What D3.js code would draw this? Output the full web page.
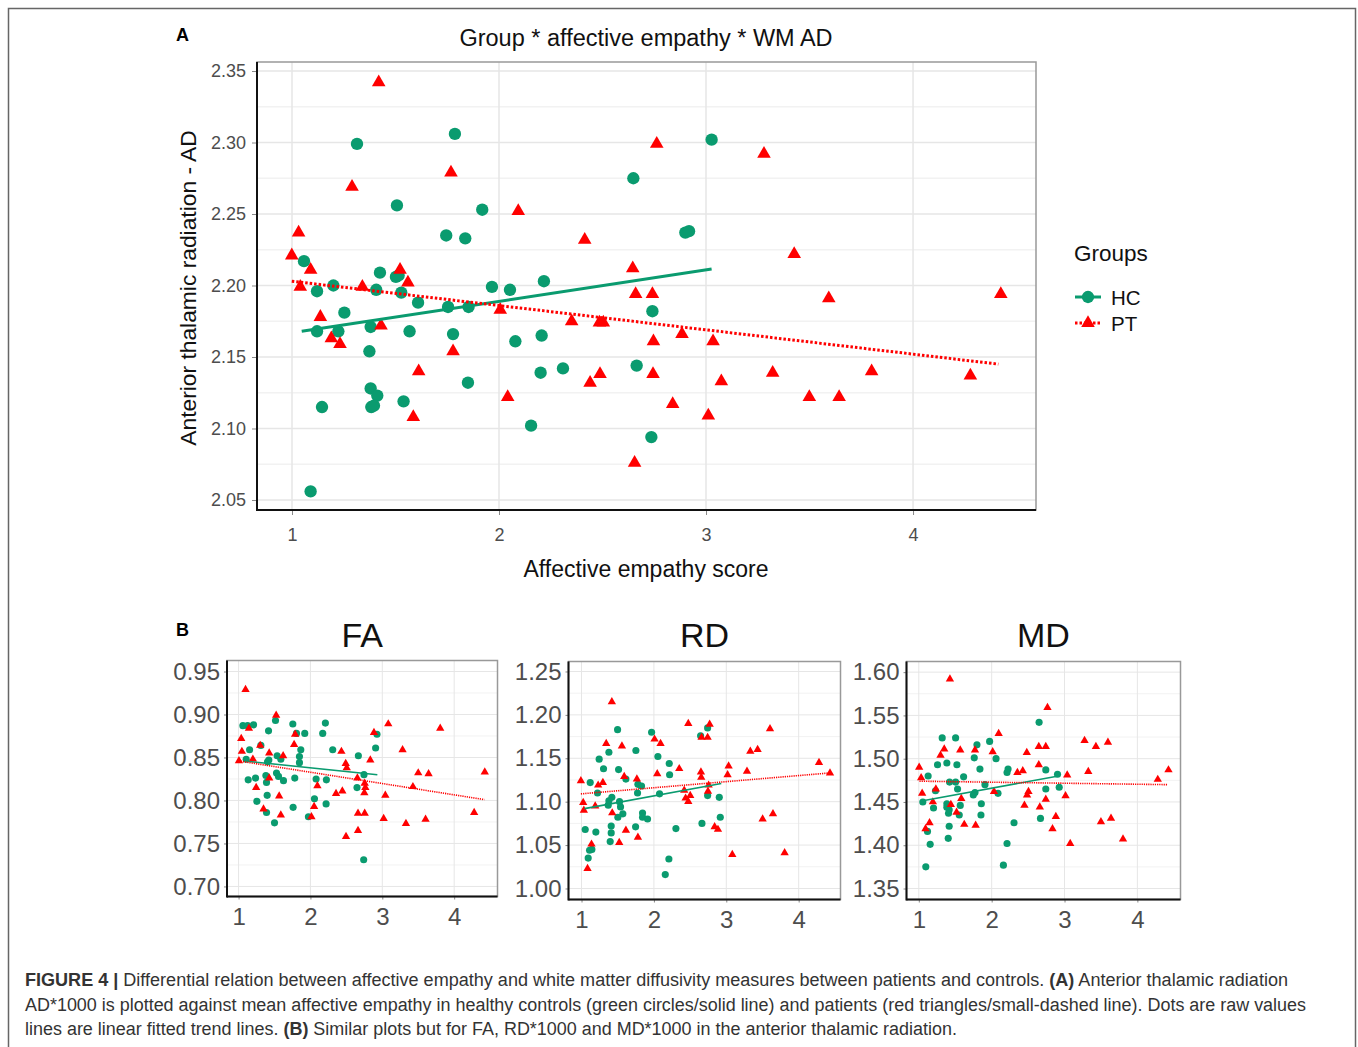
<!DOCTYPE html>
<html>
<head>
<meta charset="utf-8">
<script src="https://cdn.jsdelivr.net/npm/d3@7"></script>
<style>
    body { margin: 0; background: #fff; }
    text { font-family: "Liberation Sans", Arial, sans-serif; }
    .caption { font-family: "Liberation Sans Narrow", "Liberation Sans", Arial, sans-serif; fill: #333; }
</style>
</head>
<body>
<script>
// ---- data: [affective empathy score, value] ----

// panel A - AD
let hcAD = [[1.314,2.299],[1.787,2.306],[1.507,2.256],[1.919,2.253],[1.745,2.235],[1.837,2.233],
    [2.649,2.275],[3.027,2.302],[2.900,2.237],[2.918,2.238],[1.058,2.217],[1.121,2.196],[1.200,2.200],
    [1.425,2.209],[1.502,2.206],[1.515,2.207],[1.407,2.197],[1.528,2.195],[1.253,2.181],[1.609,2.188],
    [1.754,2.185],[1.853,2.185],[1.966,2.199],[2.053,2.197],[2.217,2.203],[1.121,2.168],[1.224,2.168],
    [1.380,2.171],[1.568,2.168],[1.778,2.166],[1.374,2.154],[2.079,2.161],[2.206,2.165],[2.201,2.139],
    [2.309,2.142],[1.850,2.132],[1.380,2.128],[1.412,2.123],[1.383,2.115],[1.396,2.116],[1.539,2.119],
    [1.145,2.115],[2.155,2.102],[1.090,2.056],[2.741,2.182],[2.665,2.144],[2.736,2.094]];
let ptAD = [[1.419,2.342],[1.290,2.269],[1.768,2.279],[2.093,2.252],[2.414,2.232],[1.032,2.237],
    [0.999,2.221],[1.090,2.211],[2.762,2.299],[3.280,2.292],[3.426,2.222],[2.646,2.212],[1.522,2.211],
    [1.560,2.202],[1.040,2.199],[1.340,2.199],[1.137,2.178],[1.430,2.172],[1.190,2.163],[1.232,2.159],
    [1.778,2.154],[1.612,2.140],[1.586,2.108],[2.006,2.183],[2.042,2.122],[2.351,2.175],[2.485,2.174],
    [2.504,2.174],[2.440,2.132],[2.488,2.138],[2.660,2.194],[2.741,2.194],[3.593,2.191],[4.424,2.194],
    [2.884,2.166],[2.746,2.161],[3.034,2.161],[2.744,2.138],[3.074,2.133],[3.322,2.139],[3.800,2.140],
    [4.277,2.137],[3.499,2.122],[3.643,2.122],[2.839,2.117],[3.011,2.109],[2.655,2.076]];
let hcADfit = [[1.047,2.168],[3.027,2.2115]];
let ptADfit = [[0.999,2.203],[4.412,2.145]];

// panel B - FA
let hcFA = [[1.06,0.887],[1.125,0.887],[1.208,0.888],[1.417,0.881],[1.153,0.859],[1.310,0.864],
    [1.106,0.848],[1.514,0.893],[1.755,0.889],[1.806,0.878],[1.921,0.878],[2.171,0.878],[2.208,0.890],
    [2.310,0.859],[1.866,0.859],[1.847,0.851],[1.847,0.844],[1.537,0.852],[1.588,0.848],[1.421,0.847],
    [1.403,0.845],[2.667,0.852],[2.907,0.861],[2.926,0.877],[1.134,0.824],[1.236,0.826],[1.380,0.829],
    [1.389,0.821],[1.528,0.832],[1.556,0.828],[1.625,0.823],[1.782,0.826],[2.079,0.825],[2.222,0.824],
    [2.648,0.815],[2.745,0.830],[1.255,0.799],[1.398,0.806],[1.389,0.786],[2.056,0.802],[2.218,0.796],
    [1.759,0.792],[1.972,0.781],[1.500,0.774],[2.741,0.731]];
let ptFA = [[1.097,0.929],[1.037,0.872],[1.046,0.857],[1.005,0.846],[1.144,0.884],[1.199,0.848],
    [1.245,0.815],[1.301,0.864],[1.347,0.790],[1.426,0.855],[1.426,0.826],[1.523,0.899],[1.565,0.805],
    [1.588,0.783],[1.620,0.852],[1.773,0.865],[1.787,0.877],[2.014,0.781],[2.051,0.793],[2.097,0.817],
    [2.356,0.808],[2.431,0.857],[2.444,0.811],[2.491,0.843],[2.505,0.838],[2.495,0.758],[2.653,0.826],
    [2.662,0.785],[2.662,0.765],[2.755,0.785],[2.755,0.820],[2.764,0.815],[2.750,0.809],[2.833,0.847],
    [2.884,0.879],[3.019,0.779],[3.042,0.806],[3.083,0.889],[3.282,0.859],[3.329,0.773],[3.426,0.816],
    [3.500,0.832],[3.644,0.831],[3.602,0.778],[3.806,0.884],[4.278,0.786],[4.426,0.833]];
let hcFAfit = [[1.069,0.846],[2.931,0.830]];
let ptFAfit = [[1.0,0.846],[4.421,0.801]];

// panel B - RD
let hcRD = [[1.498,1.183],[1.968,1.180],[2.742,1.185],[2.645,1.176],[1.751,1.159],[1.378,1.157],
    [2.055,1.152],[1.244,1.149],[1.304,1.138],[1.512,1.137],[2.212,1.144],[2.217,1.131],[1.613,1.126],
    [1.120,1.122],[1.221,1.110],[1.779,1.120],[1.829,1.118],[1.774,1.110],[2.078,1.109],[2.742,1.107],
    [2.903,1.105],[1.419,1.105],[1.378,1.101],[1.369,1.096],[1.525,1.100],[1.539,1.094],[1.571,1.086],
    [1.843,1.087],[1.843,1.082],[1.912,1.080],[1.502,1.082],[2.917,1.082],[1.410,1.072],[1.747,1.071],
    [2.304,1.069],[2.664,1.075],[1.051,1.068],[1.198,1.065],[1.410,1.064],[1.396,1.054],[1.143,1.045],
    [1.111,1.044],[1.092,1.035],[2.207,1.034],[2.157,1.016]];
let ptRD = [[1.419,1.215],[2.475,1.190],[2.770,1.189],[3.604,1.184],[2.009,1.172],[2.092,1.167],
    [2.659,1.174],[2.742,1.174],[1.341,1.167],[1.558,1.164],[3.332,1.158],[3.433,1.160],[4.281,1.145],
    [3.032,1.141],[2.350,1.138],[2.046,1.132],[3.018,1.131],[3.286,1.135],[4.433,1.133],[2.650,1.134],
    [2.654,1.128],[1.590,1.129],[1.765,1.126],[1.295,1.122],[1.230,1.119],[0.991,1.124],[2.756,1.119],
    [2.747,1.112],[2.419,1.113],[2.502,1.107],[2.438,1.104],[2.475,1.100],[1.023,1.099],[1.032,1.090],
    [1.189,1.095],[1.424,1.087],[3.502,1.080],[3.645,1.086],[2.839,1.071],[2.885,1.068],[1.613,1.067],
    [1.779,1.059],[1.138,1.051],[1.521,1.053],[3.083,1.039],[3.806,1.041],[1.083,1.023]];
let hcRDfit = [[1.041,1.092],[2.931,1.121]];
let ptRDfit = [[0.991,1.109],[4.415,1.133]];

// panel B - MD
let hcMD = [[2.651,1.542],[1.321,1.524],[1.505,1.524],[1.798,1.516],[1.972,1.520],[1.761,1.501],
    [2.060,1.500],[1.385,1.495],[1.257,1.493],[1.523,1.493],[1.128,1.480],[1.615,1.479],[1.839,1.488],
    [2.225,1.488],[2.211,1.484],[2.743,1.487],[2.904,1.482],[2.927,1.467],[2.743,1.465],[1.422,1.473],
    [1.505,1.473],[1.532,1.465],[1.229,1.463],[1.771,1.461],[1.748,1.458],[1.908,1.470],[2.087,1.460],
    [1.055,1.450],[1.202,1.443],[1.385,1.448],[1.385,1.444],[1.417,1.441],[1.408,1.437],[1.569,1.446],
    [1.858,1.448],[1.555,1.435],[1.853,1.435],[2.307,1.426],[2.670,1.431],[1.417,1.422],[1.119,1.416],
    [1.404,1.408],[2.211,1.402],[1.156,1.401],[1.096,1.375],[2.161,1.377]];
let ptMD = [[1.427,1.592],[2.766,1.559],[2.096,1.529],[3.275,1.521],[3.596,1.519],[3.431,1.514],
    [1.349,1.511],[1.569,1.510],[1.771,1.510],[2.647,1.514],[2.743,1.514],[1.298,1.504],[2.014,1.508],
    [2.482,1.507],[1.005,1.490],[2.647,1.493],[1.032,1.478],[2.353,1.484],[2.427,1.486],[3.037,1.481],
    [3.326,1.485],[4.427,1.487],[4.280,1.476],[1.234,1.465],[1.046,1.460],[2.032,1.462],[2.505,1.462],
    [2.486,1.458],[1.583,1.454],[2.743,1.453],[3.014,1.457],[1.193,1.450],[1.440,1.447],[1.518,1.438],
    [2.450,1.446],[2.661,1.444],[2.881,1.433],[1.147,1.426],[1.624,1.424],[1.780,1.423],[3.500,1.427],
    [3.638,1.431],[2.835,1.419],[1.092,1.419],[3.078,1.402],[3.803,1.407]];
let hcMDfit = [[1.055,1.4515],[2.917,1.480]];
let ptMDfit = [[1.009,1.474],[4.417,1.470]];

// tick labels
let xTicks = [1, 2, 3, 4];
let adTicks = [2.05, 2.10, 2.15, 2.20, 2.25, 2.30, 2.35];
let faTicks = [0.70, 0.75, 0.80, 0.85, 0.90, 0.95];
let rdTicks = [1.00, 1.05, 1.10, 1.15, 1.20, 1.25];
let mdTicks = [1.35, 1.40, 1.45, 1.50, 1.55, 1.60];

let groups = ["HC", "PT"];

// ---- colours ----
let hcColor = "#0a9b6f";
let ptColor = "#ff0000";

let svg = d3.select("body").append("svg")
    .attr("width", 1358)
    .attr("height", 1047);

// outer frame of the figure
svg.append("rect")
    .attr("x", 8.5).attr("y", 8.5)
    .attr("width", 1347).attr("height", 1100)
    .attr("fill", "none")
    .attr("stroke", "#666")
    .attr("stroke-width", 1.5);

// draws one scatter panel
function drawPanel(p) {
    let g = svg.append("g");
    let x = d3.scaleLinear().domain(p.xDomain).range(p.xRange);
    let y = d3.scaleLinear().domain(p.yDomain).range(p.yRange);

    // minor grid (between the major y ticks)
    let minor = [];
    for (let i = 0; i < p.yTicks.length - 1; i++) {
        minor.push((p.yTicks[i] + p.yTicks[i + 1]) / 2);
    }
    minor.push(p.yTicks[p.yTicks.length - 1] + (p.yTicks[1] - p.yTicks[0]) / 2);
    g.selectAll(".minor").data(minor.filter(d => d < p.yDomain[1])).enter().append("line")
        .attr("x1", p.xRange[0]).attr("x2", p.xRange[1])
        .attr("y1", d => y(d)).attr("y2", d => y(d))
        .attr("stroke", "#f2f2f2").attr("stroke-width", p.gridW);

    // major grid
    g.selectAll(".hgrid").data(p.yTicks).enter().append("line")
        .attr("x1", p.xRange[0]).attr("x2", p.xRange[1])
        .attr("y1", d => y(d)).attr("y2", d => y(d))
        .attr("stroke", "#e6e6e6").attr("stroke-width", p.gridW);
    g.selectAll(".vgrid").data(xTicks).enter().append("line")
        .attr("x1", d => x(d)).attr("x2", d => x(d))
        .attr("y1", p.yRange[0]).attr("y2", p.yRange[1])
        .attr("stroke", "#e6e6e6").attr("stroke-width", p.gridW);

    // panel border (top / right gray)
    g.append("rect")
        .attr("x", p.xRange[0]).attr("y", p.yRange[1])
        .attr("width", p.xRange[1] - p.xRange[0])
        .attr("height", p.yRange[0] - p.yRange[1])
        .attr("fill", "none")
        .attr("stroke", "#999").attr("stroke-width", 1.5);

    // axes
    let yAxis = g.append("g")
        .attr("transform", "translate(" + p.xRange[0] + ",0)")
        .call(d3.axisLeft(y).tickValues(p.yTicks).tickFormat(d3.format(".2f")).tickSize(p.tickLen).tickPadding(p.tickPad));
    let xAxis = g.append("g")
        .attr("transform", "translate(0," + p.yRange[0] + ")")
        .call(d3.axisBottom(x).tickValues(xTicks).tickFormat(d3.format("d")).tickSize(p.tickLen).tickPadding(p.tickPadX));
    [yAxis, xAxis].forEach(a => {
        a.select(".domain").remove();
        a.selectAll(".tick line").attr("stroke", "#888");
        a.selectAll("text")
            .style("font-family", "'Liberation Sans', Arial, sans-serif")
            .style("font-size", p.tickFont + "px")
            .attr("fill", "#4d4d4d");
    });

    g.append("line")
        .attr("x1", p.xRange[0]).attr("x2", p.xRange[0])
        .attr("y1", p.yRange[1]).attr("y2", p.yRange[0] + 1)
        .attr("stroke", "#111").attr("stroke-width", 2);
    g.append("line")
        .attr("x1", p.xRange[0]).attr("x2", p.xRange[1])
        .attr("y1", p.yRange[0]).attr("y2", p.yRange[0])
        .attr("stroke", "#111").attr("stroke-width", 2);

    let line = d3.line().x(d => x(d[0])).y(d => y(d[1]));

    // points
    g.selectAll(".hc").data(p.hc).enter().append("path")
        .attr("d", d3.symbol().type(d3.symbolCircle).size(p.circleSize))
        .attr("transform", d => "translate(" + x(d[0]) + "," + y(d[1]) + ")")
        .attr("fill", hcColor);
    g.selectAll(".pt").data(p.pt).enter().append("path")
        .attr("d", d3.symbol().type(d3.symbolTriangle).size(p.triSize))
        .attr("transform", d => "translate(" + x(d[0]) + "," + y(d[1]) + ")")
        .attr("fill", ptColor);

    // fitted lines
    g.append("path").datum(p.hcFit)
        .attr("d", line)
        .attr("fill", "none")
        .attr("stroke", hcColor)
        .attr("stroke-width", p.lineW);
    g.append("path").datum(p.ptFit)
        .attr("d", line)
        .attr("fill", "none")
        .attr("stroke", ptColor)
        .attr("stroke-width", p.lineW)
        .attr("stroke-dasharray", p.dash);

    return g;
}

// ---------- panel A ----------
drawPanel({
    xDomain: [0.831, 4.594], xRange: [257, 1036],
    yDomain: [2.043, 2.3563], yRange: [510, 62],
    yTicks: adTicks, hc: hcAD, pt: ptAD, hcFit: hcADfit, ptFit: ptADfit,
    circleSize: 120, triSize: 80, lineW: 3, dash: "2.5,2",
    gridW: 1.5, tickFont: 18, tickLen: 5, tickPad: 6, tickPadX: 13
});

svg.append("text").attr("x", 176).attr("y", 41)
    .text("A").style("font-size", "18px").style("font-weight", "bold");
svg.append("text").attr("x", 646).attr("y", 46)
    .attr("text-anchor", "middle")
    .text("Group * affective empathy * WM AD").style("font-size", "23.5px").attr("fill", "#111");
svg.append("text").attr("x", 646).attr("y", 577)
    .attr("text-anchor", "middle")
    .text("Affective empathy score").style("font-size", "23px").attr("fill", "#111");
svg.append("text")
    .attr("transform", "translate(196,288) rotate(-90)")
    .attr("text-anchor", "middle")
    .text("Anterior thalamic radiation - AD").style("font-size", "22.8px").attr("fill", "#111");

// legend
let legend = svg.append("g").attr("transform", "translate(1074,0)");
legend.append("text").attr("x", 0).attr("y", 261)
    .text("Groups").style("font-size", "22.5px").attr("fill", "#111");
groups.forEach((grp, i) => {
    let ly = 297 + i * 26;
    let col = grp === "HC" ? hcColor : ptColor;
    legend.append("line")
        .attr("x1", 1).attr("x2", 27).attr("y1", ly).attr("y2", ly)
        .attr("stroke", col).attr("stroke-width", 3)
        .attr("stroke-dasharray", grp === "HC" ? null : "2.5,2");
    legend.append("path")
        .attr("d", d3.symbol().type(grp === "HC" ? d3.symbolCircle : d3.symbolTriangle).size(grp === "HC" ? 120 : 80))
        .attr("transform", "translate(14," + ly + ")")
        .attr("fill", col);
    legend.append("text").attr("x", 37).attr("y", ly + 8)
        .text(grp).style("font-size", "20.5px").attr("fill", "#111");
});

// ---------- panel B ----------
let bPanels = [
    {name: "FA", xDomain: [0.839, 4.603], xRange: [227, 497.5], yDomain: [0.6883, 0.9628], yRange: [896.5, 660.5],
        yTicks: faTicks, hc: hcFA, pt: ptFA, hcFit: hcFAfit, ptFit: ptFAfit},
    {name: "RD", xDomain: [0.820, 4.578], xRange: [568.5, 840.5], yDomain: [0.9873, 1.2615], yRange: [899.5, 661.5],
        yTicks: rdTicks, hc: hcRD, pt: ptRD, hcFit: hcRDfit, ptFit: ptRDfit},
    {name: "MD", xDomain: [0.831, 4.592], xRange: [906.5, 1180.5], yDomain: [1.3373, 1.6123], yRange: [899.5, 661.5],
        yTicks: mdTicks, hc: hcMD, pt: ptMD, hcFit: hcMDfit, ptFit: ptMDfit}
];

bPanels.forEach(p => {
    p.circleSize = 40;
    p.triSize = 30;
    p.lineW = 1.6;
    p.dash = "1.2,1";
    p.gridW = 1;
    p.tickFont = 24;
    p.tickLen = 3;
    p.tickPad = 4;
    p.tickPadX = 8;
    drawPanel(p);
    svg.append("text")
        .attr("x", (p.xRange[0] + p.xRange[1]) / 2).attr("y", 647)
        .attr("text-anchor", "middle")
        .text(p.name).style("font-size", "34px").attr("fill", "#111");
});

svg.append("text").attr("x", 176).attr("y", 636)
    .text("B").style("font-size", "18px").style("font-weight", "bold");

// ---------- caption ----------
let captionLines = [
    [["FIGURE 4 | ", true], ["Differential relation between affective empathy and white matter diffusivity measures between patients and controls. ", false], ["(A)", true], [" Anterior thalamic radiation", false]],
    [["AD*1000 is plotted against mean affective empathy in healthy controls (green circles/solid line) and patients (red triangles/small-dashed line). Dots are raw values", false]],
    [["lines are linear fitted trend lines. ", false], ["(B)", true], [" Similar plots but for FA, RD*1000 and MD*1000 in the anterior thalamic radiation.", false]]
];
let captionWidths = [1263, 1281, 932];

captionLines.forEach((parts, i) => {
    let t = svg.append("text")
        .attr("class", "caption")
        .attr("x", 25).attr("y", 986 + i * 24.5)
        .attr("textLength", captionWidths[i])
        .attr("lengthAdjust", "spacingAndGlyphs")
        .style("font-size", "18px");
    parts.forEach(part => {
        t.append("tspan")
            .text(part[0])
            .style("font-weight", part[1] ? "bold" : "normal");
    });
});
</script>
</body>
</html>
